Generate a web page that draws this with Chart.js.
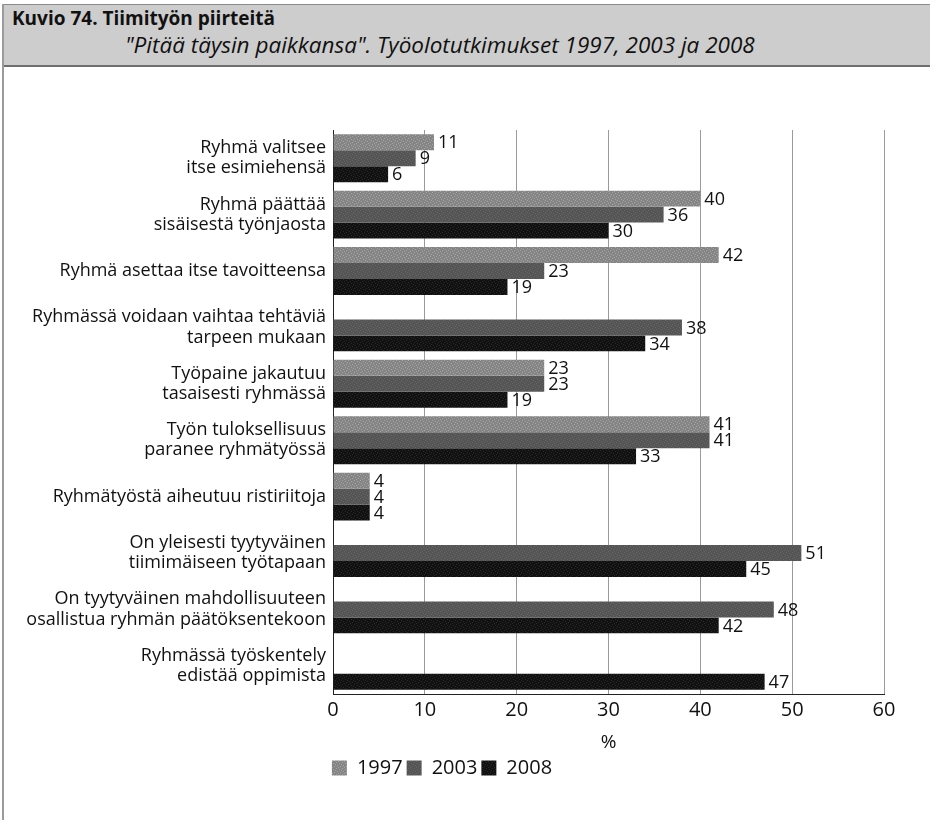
<!DOCTYPE html>
<html lang="fi">
<head>
<meta charset="utf-8">
<title>Kuvio 74. Tiimityön piirteitä</title>
<script src="https://cdn.jsdelivr.net/npm/chart.js@4.4.1/dist/chart.umd.min.js"></script>
<style>
    html, body { margin: 0; padding: 0; background: #fff; }
    #wrap { position: relative; width: 930px; height: 820px; overflow: hidden; }
    #frame { position: absolute; left: 2px; top: 4px; bottom: 0; width: 0; border-left: 2px solid #9a9a9a; }
    #header {
        position: absolute; left: 2px; right: 0; top: 4px; height: 60px;
        background: #cdcdcd; border-top: 1px solid #8a8a8a; border-bottom: 2px solid #6e6e6e;
        font-family: "Open Sans", sans-serif; color: #111;
    }
    #header .t1 { position: absolute; left: 10px; top: 0px; font-weight: bold; font-size: 19px; }
    #header .t2 { position: absolute; left: 123px; top: 24px; font-style: italic; font-size: 22.5px; }
    #chartBox { position: absolute; left: 0; top: 0; width: 930px; height: 820px; }
</style>
</head>
<body>
<div id="wrap">
    <div id="chartBox"><canvas id="chart" width="930" height="820"></canvas></div>
    <div id="header">
        <div class="t1">Kuvio 74. Tiimityön piirteitä</div>
        <div class="t2">"Pitää täysin paikkansa". Työolotutkimukset 1997, 2003 ja 2008</div>
    </div>
    <div id="frame"></div>
</div>

<script>
// --- data ---
const categories = [
    ['Ryhmä valitsee', 'itse esimiehensä'],
    ['Ryhmä päättää', 'sisäisestä työnjaosta'],
    'Ryhmä asettaa itse tavoitteensa',
    ['Ryhmässä voidaan vaihtaa tehtäviä', 'tarpeen mukaan'],
    ['Työpaine jakautuu', 'tasaisesti ryhmässä'],
    ['Työn tuloksellisuus', 'paranee ryhmätyössä'],
    'Ryhmätyöstä aiheutuu ristiriitoja',
    ['On yleisesti tyytyväinen', 'tiimimäiseen työtapaan'],
    ['On tyytyväinen mahdollisuuteen', 'osallistua ryhmän päätöksentekoon'],
    ['Ryhmässä työskentely', 'edistää oppimista']
];
const values1997 = [11, 40, 42, null, 23, 41, 4, null, null, null];
const values2003 = [9, 36, 23, 38, 23, 41, 4, 51, 48, null];
const values2008 = [6, 30, 19, 34, 19, 33, 4, 45, 42, 47];
const xTicks = [0, 10, 20, 30, 40, 50, 60];

const FONT = '"Open Sans", sans-serif';

// small grainy fill so the bars look like the printed ones
function grainPattern(base, spread) {
    const c = document.createElement('canvas');
    c.width = 6; c.height = 6;
    const g = c.getContext('2d');
    g.fillStyle = base;
    g.fillRect(0, 0, 6, 6);
    g.fillStyle = spread;
    const dots = [[0,0],[3,1],[1,3],[4,4],[2,5],[5,2]];
    dots.forEach(d => g.fillRect(d[0], d[1], 1, 1));
    return g.createPattern(c, 'repeat');
}

// value labels at the end of each bar
const valueLabels = {
    id: 'valueLabels',
    afterDatasetsDraw(chart) {
        const ctx = chart.ctx;
        ctx.save();
        ctx.font = '18px ' + FONT;
        ctx.fillStyle = '#111';
        ctx.textAlign = 'left';
        ctx.textBaseline = 'middle';
        chart.data.datasets.forEach((ds, i) => {
            const meta = chart.getDatasetMeta(i);
            meta.data.forEach((bar, j) => {
                const v = ds.data[j];
                if (v === null || v === undefined) return;
                ctx.fillText(String(v), bar.x + 4, bar.y + 1);
            });
        });
        ctx.restore();
    }
};

const ctx = document.getElementById('chart').getContext('2d');

new Chart(ctx, {
    type: 'bar',
    data: {
        labels: categories,
        datasets: [
            { label: '1997', data: values1997, backgroundColor: grainPattern('#858585', '#a5a5a5') },
            { label: '2003', data: values2003, backgroundColor: grainPattern('#555555', '#666666') },
            { label: '2008', data: values2008, backgroundColor: grainPattern('#111111', '#2a2a2a') }
        ]
    },
    options: {
        indexAxis: 'y',
        responsive: false,
        animation: false,
        datasets: {
            bar: { categoryPercentage: 0.85, barPercentage: 1.0, borderWidth: 0 }
        },
        layout: { padding: { top: 130, right: 46, left: 0, bottom: 32 } },
        scales: {
            x: {
                min: 0, max: 60,
                afterBuildTicks(scale) { scale.ticks = xTicks.map(v => ({ value: v })); },
                afterFit(scale) { scale.height = 60; },
                grid: { color: '#9a9a9a', lineWidth: 1, drawTicks: false },
                border: { display: true, color: '#222', width: 1 },
                ticks: { color: '#111', font: { family: FONT, size: 20 }, padding: 4 },
                title: { display: true, text: '%', color: '#111', font: { family: FONT, size: 19 }, padding: { top: 2, bottom: 0 } }
            },
            y: {
                afterFit(scale) { scale.width = 333; },
                grid: { display: false, drawTicks: false },
                border: { display: true, color: '#222', width: 1 },
                ticks: {
                    color: '#111',
                    font: { family: FONT, size: 18, lineHeight: 1.12 },
                    padding: 7,
                    autoSkip: false
                }
            }
        },
        plugins: {
            legend: {
                position: 'bottom',
                labels: {
                    color: '#111',
                    font: { family: FONT, size: 20 },
                    boxWidth: 15,
                    boxHeight: 15,
                    padding: 4
                }
            },
            tooltip: { enabled: false }
        }
    },
    plugins: [valueLabels]
});
</script>
</body>
</html>
